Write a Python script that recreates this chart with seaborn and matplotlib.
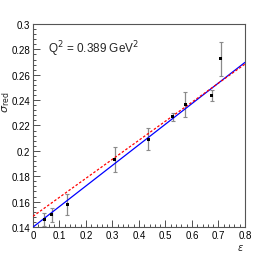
import numpy as np
import pandas as pd
import matplotlib
matplotlib.use("Agg")
import matplotlib.pyplot as plt
import seaborn as sns
from matplotlib.ticker import MultipleLocator

# measured reduced cross section at Q2 = 0.389 GeV2
eps = [0.042, 0.070, 0.129, 0.309, 0.435, 0.527, 0.574, 0.674, 0.709]
sigma_red = [0.1458, 0.1495, 0.1576, 0.1932, 0.2093, 0.2268, 0.2364, 0.2438, 0.2726]
sigma_err = [0.0054, 0.0055, 0.0083, 0.0096, 0.0087, 0.0030, 0.0096, 0.0042, 0.0134]

# fit lines: intercept, slope
blue_fit = [0.1399, 0.1623]
red_fit = [0.1484, 0.1500]

sns.set_style("ticks")
plt.rcParams["font.family"] = ["Liberation Sans", "DejaVu Sans"]

df = pd.DataFrame({"eps": eps, "sigma": sigma_red, "err": sigma_err})
xs = np.linspace(0, 0.8, 50)
lines = pd.DataFrame({
    "eps": xs,
    "blue": blue_fit[0] + blue_fit[1] * xs,
    "red": red_fit[0] + red_fit[1] * xs,
})

fig = plt.figure(figsize=(2.66, 2.55), dpi=100)
ax = fig.add_axes([0.124, 0.106, 0.797, 0.796])

ax.errorbar(df["eps"], df["sigma"], yerr=df["err"], fmt="none",
            ecolor="#8a8a8a", elinewidth=0.9, capsize=1.5, capthick=0.8, zorder=2)
sns.lineplot(data=lines, x="eps", y="blue", ax=ax, color="blue", lw=0.9, zorder=3)
sns.lineplot(data=lines, x="eps", y="red", ax=ax, color="red", lw=0.9,
             linestyle=(0, (2, 1.5)), zorder=4)
sns.scatterplot(data=df, x="eps", y="sigma", ax=ax, marker="s", s=5,
                color="black", edgecolor="none", zorder=5)

ax.set_xlim(0, 0.8)
ax.set_ylim(0.14, 0.3)
ax.xaxis.set_major_locator(MultipleLocator(0.1))
ax.xaxis.set_minor_locator(MultipleLocator(0.02))
ax.yaxis.set_major_locator(MultipleLocator(0.02))
ax.yaxis.set_minor_locator(MultipleLocator(0.004))
ax.xaxis.set_major_formatter(plt.FuncFormatter(lambda v, p: "0" if abs(v) < 1e-9 else f"{v:g}"))
ax.yaxis.set_major_formatter(plt.FuncFormatter(lambda v, p: f"{v:g}"))
ax.tick_params(which="both", direction="in", labelsize=7, colors="#333333",
               labelcolor="black", width=0.6)
ax.tick_params(which="major", length=5, pad=2)
ax.tick_params(which="minor", length=2.5)
for s in ax.spines.values():
    s.set_linewidth(0.8)
    s.set_color("#555555")

ax.set_xlabel("")
ax.set_ylabel("")
fig.text(0.905, 0.015, r"$\varepsilon$", fontsize=7, ha="center")
fig.text(0.022, 0.6, r"$\sigma_{\rm red}$", fontsize=8, rotation=90, ha="center", va="center")
ax.text(0.07, 0.88, r"Q$^2$ = 0.389 GeV$^2$", transform=ax.transAxes, fontsize=8.5,
        va="center")

fig.savefig("out.png", dpi=100)
